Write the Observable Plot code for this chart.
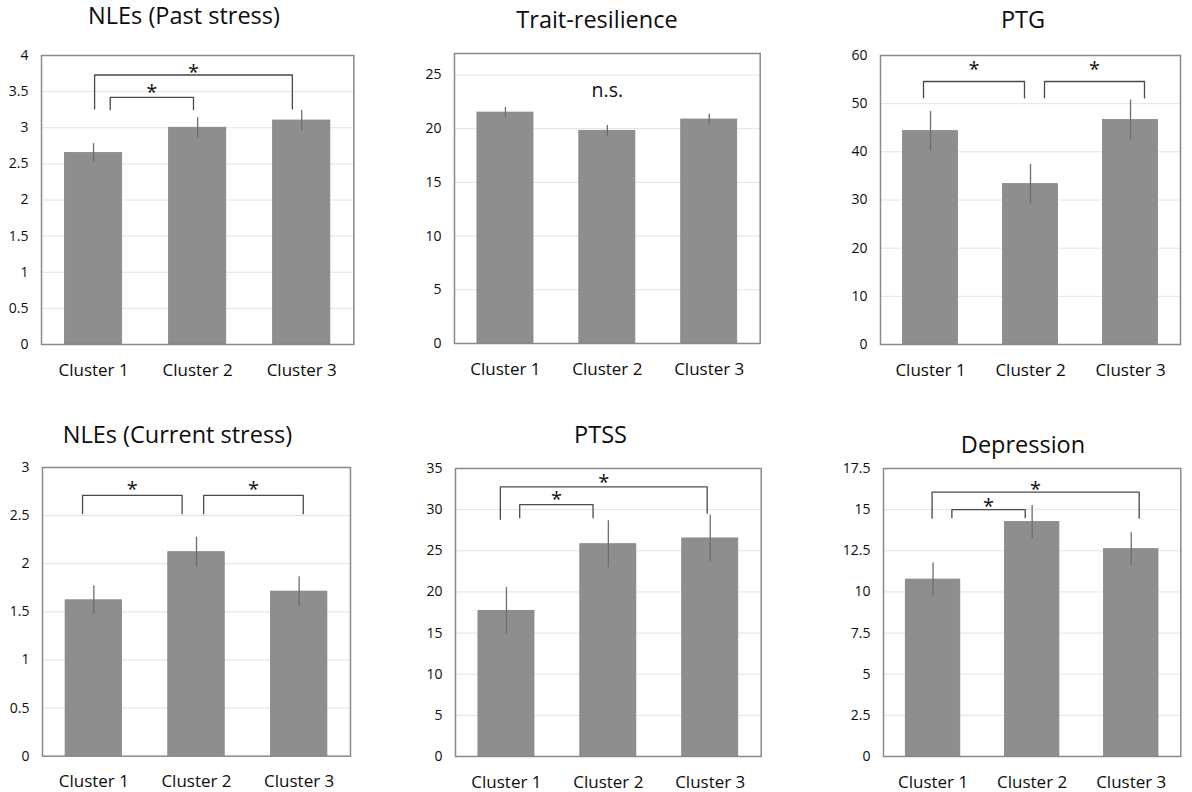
<!DOCTYPE html>
<html><head><meta charset="utf-8">
<script src="https://cdn.jsdelivr.net/npm/d3@7"></script>
<script src="https://cdn.jsdelivr.net/npm/@observablehq/plot@0.6"></script>
<style>
body{margin:0;background:#fff;font-family:"Open Sans",sans-serif;}
#root{position:relative;width:1192px;height:792px;overflow:hidden;background:#fff;}
.panel{position:absolute;}
.title{position:absolute;font-size:23.5px;line-height:23.5px;white-space:nowrap;transform:translateX(-50%);color:#0d0d0d;font-family:"Open Sans",sans-serif;}
</style></head><body><div id="root"></div>
<script>
// ---- data ----
const clusters = ["Cluster 1", "Cluster 2", "Cluster 3"];
const clusterIndex = [1, 2, 3];

const titles = ["NLEs (Past stress)", "Trait-resilience", "PTG", "NLEs (Current stress)", "PTSS", "Depression"];

const meansPastStress = [2.65, 3.00, 3.10];
const errorsPastStress = [0.13, 0.14, 0.14];
const ticksPastStress = [0, 0.5, 1, 1.5, 2, 2.5, 3, 3.5, 4];

const meansResilience = [21.5, 19.8, 20.85];
const errorsResilience = [0.47, 0.5, 0.5];
const ticksResilience = [0, 5, 10, 15, 20, 25];

const meansPTG = [44.3, 33.3, 46.6];
const errorsPTG = [4.1, 4.1, 4.15];
const ticksPTG = [0, 10, 20, 30, 40, 50, 60];

const meansCurrentStress = [1.62, 2.12, 1.71];
const errorsCurrentStress = [0.15, 0.155, 0.155];
const ticksCurrentStress = [0, 0.5, 1, 1.5, 2, 2.5, 3];

const meansPTSS = [17.7, 25.8, 26.5];
const errorsPTSS = [2.85, 2.85, 2.85];
const ticksPTSS = [0, 5, 10, 15, 20, 25, 30, 35];

const meansDepression = [10.75, 14.25, 12.6];
const errorsDepression = [1.0, 1.0, 1.0];
const ticksDepression = [0, 2.5, 5, 7.5, 10, 12.5, 15, 17.5];

// significance brackets (x in cluster units, y in data units)
const bracketsPastStress = [
  {x1: 1.01, x2: 2.91, y: 3.73, y1: 3.26, y2: 3.26, starY: 3.82, label: "*"},
  {x1: 1.16, x2: 1.96, y: 3.42, y1: 3.25, y2: 3.25, starY: 3.54, label: "*"}
];
const bracketsResilience = [];
const notesResilience = [{x: 2, y: 23.5, label: "n.s."}];
const bracketsPTG = [
  {x1: 0.93, x2: 1.94, y: 54.6, y1: 51.2, y2: 51.2, starY: 57.9, label: "*"},
  {x1: 2.14, x2: 3.14, y: 54.6, y1: 51.2, y2: 51.2, starY: 57.9, label: "*"}
];
const bracketsCurrentStress = [
  {x1: 0.89, x2: 1.86, y: 2.71, y1: 2.52, y2: 2.52, starY: 2.81, label: "*"},
  {x1: 2.07, x2: 3.04, y: 2.71, y1: 2.52, y2: 2.52, starY: 2.81, label: "*"}
];
const bracketsPTSS = [
  {x1: 0.94, x2: 2.97, y: 32.77, y1: 28.83, y2: 29.56, starY: 33.74, label: "*"},
  {x1: 1.13, x2: 1.85, y: 30.6, y1: 29.0, y2: 29.0, starY: 31.7, label: "*"}
];
const bracketsDepression = [
  {x1: 0.99, x2: 3.08, y: 16.06, y1: 14.48, y2: 14.48, starY: 16.46, label: "*"},
  {x1: 1.19, x2: 1.93, y: 15.0, y1: 14.5, y2: 14.5, starY: 15.45, label: "*"}
];

// ---- layout (page coordinates of each plot frame, title anchor) ----
const panels = [
  {title: titles[0], means: meansPastStress, errors: errorsPastStress, ticks: ticksPastStress, yMax: 4, brackets: bracketsPastStress, notes: [],
   frame: {l: 40.7, r: 353, t: 55, b: 344}, titleX: 184, titleBase: 25},
  {title: titles[1], means: meansResilience, errors: errorsResilience, ticks: ticksResilience, yMax: 27, brackets: bracketsResilience, notes: notesResilience,
   frame: {l: 454.3, r: 760, t: 53.3, b: 343.3}, titleX: 597, titleBase: 29.3},
  {title: titles[2], means: meansPTG, errors: errorsPTG, ticks: ticksPTG, yMax: 60, brackets: bracketsPTG, notes: [],
   frame: {l: 880, r: 1180, t: 55, b: 344}, titleX: 1023, titleBase: 29.3},
  {title: titles[3], means: meansCurrentStress, errors: errorsCurrentStress, ticks: ticksCurrentStress, yMax: 3, brackets: bracketsCurrentStress, notes: [],
   frame: {l: 42, r: 350, t: 467.3, b: 756}, titleX: 177.5, titleBase: 444.3},
  {title: titles[4], means: meansPTSS, errors: errorsPTSS, ticks: ticksPTSS, yMax: 35, brackets: bracketsPTSS, notes: [],
   frame: {l: 455, r: 760.7, t: 468, b: 756}, titleX: 600.5, titleBase: 444.3},
  {title: titles[5], means: meansDepression, errors: errorsDepression, ticks: ticksDepression, yMax: 17.5, brackets: bracketsDepression, notes: [],
   frame: {l: 882.7, r: 1180, t: 468, b: 756}, titleX: 1023, titleBase: 454.3}
];

const ML = 48, MR = 10, MT = 14, MB = 46;
const halfBar = 0.275;
const root = document.getElementById("root");

for (const p of panels) {
  const rows = clusterIndex.map((i, k) => ({i, name: clusters[k], mean: p.means[k], err: p.errors[k]}));
  const bracketPts = p.brackets.flatMap((b, id) => [
    {id, x: b.x1, y: b.y1}, {id, x: b.x1, y: b.y}, {id, x: b.x2, y: b.y}, {id, x: b.x2, y: b.y2}
  ]);
  const stars = p.brackets.map(b => ({x: (b.x1 + b.x2) / 2, y: b.starY, label: b.label}));
  const f = p.frame;
  const width = f.r - f.l + ML + MR;
  const height = f.b - f.t + MT + MB;

  const chart = Plot.plot({
    width, height,
    marginLeft: ML, marginRight: MR, marginTop: MT, marginBottom: MB,
    style: {fontFamily: "'Open Sans', sans-serif", color: "#0d0d0d", background: "transparent", overflow: "visible"},
    x: {domain: [0.5, 3.5]},
    y: {domain: [0, p.yMax]},
    marks: [
      Plot.gridY(p.ticks.filter(t => t > 0 && t < p.yMax), {stroke: "#e2e2e2", strokeOpacity: 1, strokeWidth: 1}),
      Plot.rect(rows, {x1: d => d.i - halfBar, x2: d => d.i + halfBar, y1: 0, y2: "mean", fill: "#8e8e8e", stroke: "#858585", strokeWidth: 0.8}),
      Plot.ruleX(rows, {x: "i", y1: d => d.mean - d.err, y2: d => d.mean + d.err, stroke: "#6e6e6e", strokeWidth: 1.3}),
      Plot.line(bracketPts, {x: "x", y: "y", z: "id", stroke: "#4a4a4a", strokeWidth: 1.3}),
      Plot.text(stars, {x: "x", y: "y", text: "label", fontSize: 20, dy: 4, fill: "#111"}),
      Plot.text(p.notes, {x: "x", y: "y", text: "label", fontSize: 19.5, fill: "#111"}),
      Plot.frame({stroke: "#8a8a8a", strokeWidth: 1.5}),
      Plot.axisY(p.ticks, {tickSize: 0, tickPadding: 13, fontSize: 14, tickFormat: d => String(d), label: null}),
      Plot.axisX(clusterIndex, {tickSize: 0, tickPadding: 19, fontSize: 17, tickFormat: i => clusters[i - 1], label: null})
    ]
  });

  const wrap = document.createElement("div");
  wrap.className = "panel";
  wrap.style.left = (f.l - ML) + "px";
  wrap.style.top = (f.t - MT) + "px";
  wrap.appendChild(chart);
  root.appendChild(wrap);

  const t = document.createElement("div");
  t.className = "title";
  t.textContent = p.title;
  t.style.left = p.titleX + "px";
  t.style.top = (p.titleBase - 20.9) + "px";
  root.appendChild(t);
}
</script>
</body></html>
